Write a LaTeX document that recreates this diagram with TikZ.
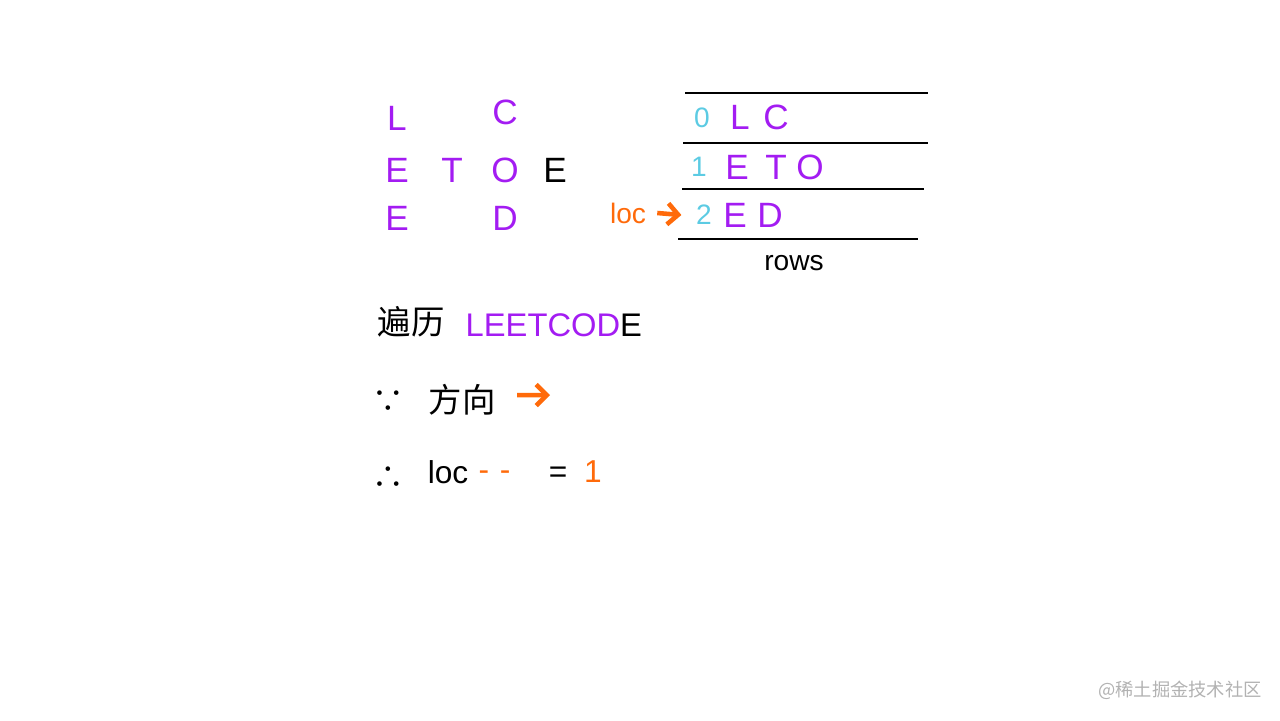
\documentclass[tikz,border=0pt]{standalone}
\usepackage{fontspec}
\setmainfont{Liberation Sans}
\newfontfamily\cjk{Noto Sans CJK SC}
\usetikzlibrary{arrows.meta,positioning}
\definecolor{letterpurple}{HTML}{A31CF2}
\definecolor{idxcyan}{HTML}{5CCBE3}
\definecolor{locorange}{HTML}{FF6A0A}

\begin{document}
\begin{tikzpicture}[
    x=0.01cm, y=-0.01cm,
    letter/.style={inner sep=0pt, font=\fontsize{10}{12}\selectfont, text=letterpurple},
    blackletter/.style={letter, text=black},
    idx/.style={inner sep=0pt, font=\fontsize{8}{10}\selectfont, text=idxcyan},
    note/.style={inner sep=0pt, font=\fontsize{9}{12}\selectfont, text=black},
    rowline/.style={line width=0.7pt, black},
    arrow/.style={-{Straight Barb[length=3pt, width=6pt]}, line width=1.3pt, locorange}
]
\useasboundingbox (0,0) rectangle (1280,720);

% Zigzag layout (left)
\node[letter] (zL) at (397,118) {L};
\node[letter] (zC) at (505,112) {C};
\node[letter] (zE1) at (397,170) {E};
\node[letter] (zT) at (452,170) {T};
\node[letter] (zO) at (505,170) {O};
\node[blackletter] (zE2) at (555,170) {E};
\node[letter] (zE3) at (397,218) {E};
\node[letter] (zD) at (505,218) {D};

% Rows table (right)
\coordinate (l0a) at (685,93);  \coordinate (l0b) at (928,93);
\coordinate (l1a) at (683,143); \coordinate (l1b) at (928,143);
\coordinate (l2a) at (682,189); \coordinate (l2b) at (924,189);
\coordinate (l3a) at (678,239); \coordinate (l3b) at (918,239);
\draw[rowline] (l0a) -- (l0b);
\draw[rowline] (l1a) -- (l1b);
\draw[rowline] (l2a) -- (l2b);
\draw[rowline] (l3a) -- (l3b);

\node[idx] (r0) at (702,118) {0};
\node[letter] (r0L) at (740,117) {L};
\node[letter] (r0C) at (776,117) {C};
\node[idx] (r1) at (699,167) {1};
\node[letter] (r1E) at (737,167) {E};
\node[letter] (r1T) at (776,167) {T};
\node[letter] (r1O) at (810,167) {O};
\node[idx] (r2) at (704,215) {2};
\node[letter] (r2E) at (735,215) {E};
\node[letter] (r2D) at (770,215) {D};

\node[inner sep=0pt, font=\fontsize{8}{10}\selectfont, text=locorange] (loc) at (628,213) {loc};
\draw[arrow] ([xshift=3pt]loc.east) -- ([xshift=-4pt]r2.west);

\node[inner sep=0pt, font=\fontsize{8}{10}\selectfont] (rows) at (794,263) {rows};

% Traversal notes (bottom)
\node[note, font=\cjk\fontsize{9.5}{12}\selectfont] (walk) at (411,322) {遍历};
\node[letter, font=\fontsize{9.3}{12}\selectfont, anchor=west] (word) at (465,325) {LEETCOD\textcolor{black}{E}};

\node[note, font=\cjk\fontsize{9}{12}\selectfont] (since) at (388,402) {∵};
\node[note, font=\cjk\fontsize{9.5}{12}\selectfont] (dir) at (462,400) {方向};
\coordinate (dirend) at (550,395);
\draw[arrow] ([xshift=6pt, yshift=1.4pt]dir.east) -- (dirend);

\node[note, font=\cjk\fontsize{9}{12}\selectfont] (hence) at (388,478) {∴};
\node[note] (loc2) at (448,472) {loc};
\node[note, text=locorange, anchor=west] (dec) at (478,476) {{-}\,\,{-}};
\node[note] (eq) at (558,475) {=};
\node[note, text=locorange] (one) at (593,472) {1};

% Watermark
\node[inner sep=0pt, font=\cjk\fontsize{5.2}{7}\selectfont, text=black!30] (mark) at (1180,690) {@稀土掘金技术社区};
\end{tikzpicture}
\end{document}
